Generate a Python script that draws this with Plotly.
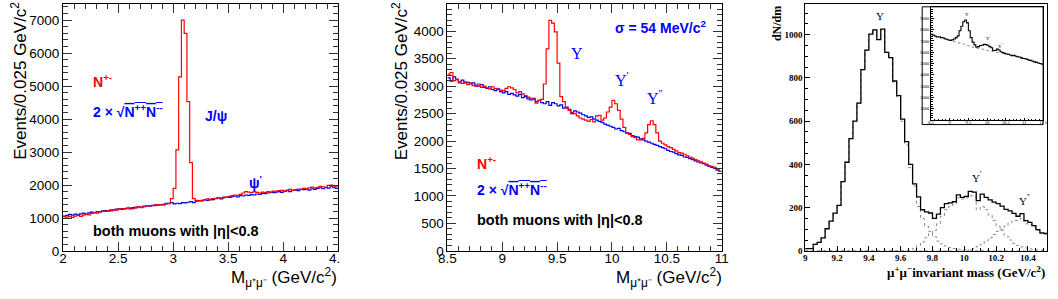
import numpy as np
import plotly.graph_objects as go

W, H = 1058, 299

# ---------------- data ----------------
# Panel 1: J/psi region, bins of 0.025 GeV starting at 2.0
p1_bin_start = 2.0
p1_bin_width = 0.025
p1_red = [1040, 1030, 1050, 1020, 1060, 1080, 1050, 1090, 1110, 1100,
          1140, 1170, 1150, 1190, 1210, 1200, 1230, 1220, 1250, 1240,
          1270, 1290, 1280, 1300, 1310, 1290, 1330, 1340, 1320, 1360,
          1380, 1370, 1390, 1380, 1410, 1400, 1420, 1450, 1440, 1590,
          1900, 3070, 5280, 7000, 6600, 4530, 2680, 1590, 1540, 1520,
          1540, 1560, 1580, 1550, 1590, 1600, 1620, 1610, 1640, 1630,
          1660, 1680, 1700, 1690, 1720, 1760, 1800, 1790, 1770, 1800,
          1780, 1760, 1790, 1770, 1800, 1790, 1820, 1810, 1830, 1840,
          1820, 1850, 1870, 1840, 1860, 1880, 1870, 1900, 1890, 1920,
          1940, 1910, 1930, 1960, 1950, 1920, 1990, 2000, 1970, 1950]
p1_blue = [1060, 1080, 1110, 1090, 1120, 1100, 1130, 1150, 1120, 1160,
           1180, 1160, 1200, 1190, 1220, 1230, 1210, 1250, 1240, 1270,
           1280, 1260, 1290, 1300, 1280, 1320, 1310, 1340, 1330, 1350,
           1370, 1360, 1380, 1400, 1390, 1410, 1400, 1430, 1450, 1470,
           1430, 1450, 1440, 1470, 1460, 1480, 1500, 1470, 1510, 1530,
           1520, 1550, 1540, 1570, 1560, 1590, 1610, 1580, 1620, 1640,
           1630, 1650, 1670, 1640, 1680, 1670, 1700, 1690, 1710, 1700,
           1730, 1720, 1750, 1740, 1760, 1780, 1770, 1790, 1800, 1780,
           1810, 1830, 1800, 1840, 1850, 1830, 1870, 1860, 1880, 1850,
           1890, 1870, 1900, 1920, 1890, 1930, 1910, 1950, 1920, 1900]
p1_xticks = [2, 2.5, 3, 3.5, 4, 4.5]
p1_xticklabels = ["2", "2.5", "3", "3.5", "4", "4.<span style='color:white'>5</span>"]
p1_yticks = [0, 1000, 2000, 3000, 4000, 5000, 6000, 7000]

# Panel 2: Upsilon region, bins of 0.025 GeV starting at 8.5
p2_bin_start = 8.5
p2_bin_width = 0.025
p2_red = [3220, 3250, 3100, 3130, 3060, 3050, 3080, 3030, 3060, 3010,
          3000, 3040, 2980, 3000, 2970, 2950, 2990, 2960, 2940, 2930,
          2920, 2960, 2990, 2970, 2940, 2880, 2900, 2860, 2830, 2800,
          2780, 2760, 2690, 2740, 2760, 3040, 3680, 4200, 4150, 3990,
          3420, 2810, 2720, 2600, 2560, 2520, 2500, 2460, 2420, 2400,
          2380, 2360, 2390, 2350, 2460, 2470, 2380, 2420, 2530, 2620,
          2740, 2680, 2560, 2400, 2250, 2140, 2120, 2080, 2060, 2020,
          2020, 2050, 2150, 2300, 2370, 2300, 2150, 2000, 1960, 1930,
          1900, 1880, 1850, 1820, 1790, 1780, 1760, 1730, 1710, 1690,
          1660, 1640, 1620, 1600, 1580, 1550, 1540, 1520, 1480, 1450]
p2_blue = [3150, 3090, 3170, 3120, 3080, 3110, 3060, 3070, 3040, 3060,
           3020, 3000, 3030, 2980, 2960, 2990, 2940, 2920, 2950, 2900,
           2880, 2900, 2850, 2870, 2840, 2820, 2850, 2790, 2810, 2770,
           2750, 2780, 2720, 2740, 2700, 2680, 2720, 2650, 2700, 2680,
           2640, 2660, 2600, 2620, 2580, 2500, 2550, 2530, 2510, 2480,
           2460, 2430, 2440, 2400, 2380, 2360, 2340, 2310, 2290, 2270,
           2250, 2220, 2230, 2190, 2170, 2150, 2140, 2100, 2080, 2070,
           2040, 2020, 2000, 1980, 1960, 1940, 1920, 1900, 1880, 1860,
           1830, 1810, 1800, 1770, 1750, 1740, 1710, 1700, 1680, 1660,
           1640, 1620, 1600, 1590, 1560, 1540, 1520, 1500, 1470, 1450]
p2_xticks = [8.5, 9, 9.5, 10, 10.5, 11]
p2_yticks = [0, 500, 1000, 1500, 2000, 2500, 3000, 3500, 4000, 4500]

# Panel 3: fitted Upsilon states, bins of 0.025 GeV starting at 9.0
p3_bin_start = 9.0
p3_bin_width = 0.025
p3_total = [10, 10, 30, 39, 60, 102, 137, 174, 210, 320,
            410, 519, 600, 684, 839, 929, 1003, 1023, 978, 1026,
            919, 894, 786, 718, 610, 505, 400, 310, 250, 190,
            180, 175, 150, 170, 200, 218, 222, 227, 259, 247,
            252, 275, 272, 232, 262, 247, 236, 225, 218, 207,
            192, 185, 173, 160, 172, 140, 132, 117, 98, 83, 80]
p3_ups1s = [10, 10, 30, 39, 60, 102, 137, 174, 210, 320,
            410, 519, 600, 684, 839, 929, 1003, 1023, 978, 1026,
            919, 894, 780, 712, 600, 490, 385, 300, 205, 150,
            115, 90, 65, 45, 32, 22, 15, 10, 7, 5,
            4, 3, 2, 2, 1, 1, 1, 0, 0, 0,
            0, 0, 0, 0, 0, 0, 0, 0, 0, 0, 0]
p3_ups2s = [0, 0, 0, 0, 0, 0, 0, 0, 0, 0,
            0, 0, 0, 0, 0, 0, 0, 0, 0, 0,
            0, 0, 0, 0, 0, 2, 5, 10, 25, 40,
            60, 80, 95, 125, 160, 190, 205, 215, 245, 240,
            245, 255, 250, 190, 205, 190, 165, 140, 115, 95,
            70, 50, 35, 25, 18, 13, 9, 6, 4, 3, 2]
p3_ups3s = [0, 0, 0, 0, 0, 0, 0, 0, 0, 0,
            0, 0, 0, 0, 0, 0, 0, 0, 0, 0,
            0, 0, 0, 0, 0, 0, 0, 0, 0, 0,
            0, 0, 0, 0, 0, 0, 0, 0, 0, 0,
            2, 5, 10, 20, 30, 45, 60, 75, 90, 100,
            115, 130, 140, 140, 150, 125, 122, 110, 95, 80, 78]
p3_xticks = [9, 9.2, 9.4, 9.6, 9.8, 10, 10.2, 10.4]
p3_yticks = [0, 200, 400, 600, 800, 1000]

# Inset: bins of 0.05 GeV starting at 8.5
inset_bin_start = 8.5
inset_bin_width = 0.05
inset_total = [7600, 7500, 7420, 7350, 7380, 7300, 7280, 7200, 7150, 7080,
               7050, 7100, 7180, 7300, 7450, 7900, 8300, 8700, 8860, 8600,
               7900, 7300, 6900, 6650, 6450, 6500, 6600, 6620, 6700, 6680,
               6620, 6500, 6400, 6150, 6150, 6280, 6200, 6050, 5980, 5900,
               5850, 5820, 5760, 5700, 5720, 5650, 5600, 5580, 5500, 5450,
               5420, 5380, 5300, 5280, 5200, 5150, 5100, 5050, 5000, 4950]
inset_background = [7600, 7500, 7420, 7350, 7380, 7300, 7280, 7200, 7150, 7080,
                    7050, 7000, 6950, 6900, 6850, 6800, 6750, 6720, 6650, 6600,
                    6550, 6500, 6450, 6420, 6380, 6350, 6300, 6280, 6250, 6200,
                    6150, 6120, 6080, 6050, 6000, 5980, 5950, 5920, 5900, 5900,
                    5850, 5820, 5760, 5700, 5720, 5650, 5600, 5580, 5500, 5450,
                    5420, 5380, 5300, 5280, 5200, 5150, 5100, 5050, 5000, 4950]
inset_xticks = [8.5, 9, 9.5, 10, 10.5, 11, 11.5]
inset_yticks = [1000, 2000, 3000, 4000, 5000, 6000, 7000, 8000, 9000]

# ---------------- helpers ----------------
SANS = "Liberation Sans, Arial, sans-serif"
SERIF = "Liberation Serif, Times New Roman, serif"


def hx(p):
    return p / W


def hy(p):
    return 1 - p / H


def step(start, width, vals):
    edges = start + width * np.arange(len(vals) + 1)
    return edges, list(vals) + [vals[-1]]


fig = go.Figure()


def add_hist(start, width, vals, color, lw, xa, ya, dash="solid"):
    xs, ys = step(start, width, vals)
    fig.add_trace(go.Scatter(x=xs, y=ys, mode="lines", line_shape="hv",
                             line=dict(color=color, width=lw, dash=dash),
                             xaxis=xa, yaxis=ya, hoverinfo="skip", showlegend=False))


RED = "#ff0000"
BLUE = "#0000ff"

add_hist(p1_bin_start, p1_bin_width, p1_blue, BLUE, 1.2, "x", "y")
add_hist(p1_bin_start, p1_bin_width, p1_red, RED, 1.2, "x", "y")
add_hist(p2_bin_start, p2_bin_width, p2_blue, BLUE, 1.2, "x2", "y2")
add_hist(p2_bin_start, p2_bin_width, p2_red, RED, 1.2, "x2", "y2")
GRAY = "#8a8a8a"
add_hist(p3_bin_start, p3_bin_width, p3_ups1s, GRAY, 1, "x3", "y3", "dot")
add_hist(p3_bin_start, p3_bin_width, p3_ups2s, GRAY, 1, "x3", "y3", "dot")
add_hist(p3_bin_start, p3_bin_width, p3_ups3s, GRAY, 1, "x3", "y3", "dot")
add_hist(p3_bin_start, p3_bin_width, p3_total, "black", 1.3, "x3", "y3")
add_hist(inset_bin_start, inset_bin_width, inset_background, GRAY, 1, "x4", "y4", "dot")
add_hist(inset_bin_start, inset_bin_width, inset_total, "black", 1.1, "x4", "y4")

tick_font_sans = dict(family=SANS, size=13.5, color="black")
frame = dict(showline=True, linecolor="black", linewidth=1, mirror="allticks",
             showgrid=False, zeroline=False, ticks="inside", tickcolor="#333",
             tickwidth=1)

layout = dict(
    width=W, height=H, margin=dict(l=0, r=0, t=0, b=0),
    paper_bgcolor="white", plot_bgcolor="white", showlegend=False,
    xaxis=dict(frame, domain=[hx(55), hx(335)], range=[2, 4.5], anchor="y",
               tickvals=p1_xticks, ticktext=p1_xticklabels, ticklen=9,
               minor=dict(ticks="inside", dtick=0.1, ticklen=5, tickcolor="#333"),
               tickfont=tick_font_sans, ticklabelstandoff=-5),
    yaxis=dict(frame, domain=[hy(258), hy(3.7)], range=[0, 7500], anchor="x",
               tickvals=p1_yticks, ticklen=9,
               minor=dict(ticks="inside", dtick=200, ticklen=5, tickcolor="#333"),
               tickfont=tick_font_sans),
    xaxis2=dict(frame, domain=[hx(446), hx(725)], range=[8.5, 11], anchor="y2",
                tickvals=p2_xticks, ticklen=9,
                minor=dict(ticks="inside", dtick=0.1, ticklen=5, tickcolor="#333"),
                tickfont=tick_font_sans, ticklabelstandoff=-5),
    yaxis2=dict(frame, domain=[hy(257.7), hy(4)], range=[0, 4500], anchor="x2",
                tickvals=p2_yticks, ticklen=9,
                minor=dict(ticks="inside", dtick=100, ticklen=5, tickcolor="#333"),
                tickfont=tick_font_sans),
    xaxis3=dict(showline=True, linecolor="black", linewidth=1, mirror=True,
                showgrid=False, zeroline=False, ticks="inside", tickcolor="black",
                domain=[hx(810), hx(1056)], range=[9, 10.52], anchor="y3",
                tickvals=p3_xticks, ticklen=5,
                minor=dict(ticks="inside", dtick=0.05, ticklen=3, tickcolor="black"),
                tickfont=dict(family=SERIF, size=9, color="black", weight="bold"),
                ticklabelstandoff=-2),
    yaxis3=dict(showline=True, linecolor="black", linewidth=1, mirror=True,
                showgrid=False, zeroline=False, ticks="inside", tickcolor="black",
                domain=[hy(257.7), hy(4)], range=[0, 1143], anchor="x3",
                tickvals=p3_yticks, ticklen=5,
                minor=dict(ticks="inside", dtick=50, ticklen=3, tickcolor="black"),
                tickfont=dict(family=SERIF, size=9, color="black", weight="bold")),
    xaxis4=dict(showline=True, linecolor="black", linewidth=1, mirror=True,
                showgrid=False, zeroline=False, ticks="inside", tickcolor="black",
                domain=[hx(938), hx(1052)], range=[8.5, 11.5], anchor="y4",
                tickvals=inset_xticks, ticklen=2.5,
                minor=dict(ticks="inside", dtick=0.1, ticklen=1.5, tickcolor="black"),
                tickfont=dict(family=SERIF, size=4.5, color="black"),
                ticklabelstandoff=-2),
    yaxis4=dict(showline=True, linecolor="black", linewidth=1, mirror=True,
                showgrid=False, zeroline=False, ticks="inside", tickcolor="black",
                domain=[hy(123.3), hy(7.3)], range=[0, 10000], anchor="x4",
                tickvals=inset_yticks, ticklen=2.5,
                minor=dict(ticks="inside", dtick=200, ticklen=1.5, tickcolor="black"),
                tickfont=dict(family=SERIF, size=4.5, color="black")),
)
fig.update_layout(**layout)

# inset outer box
fig.add_shape(type="rect", xref="paper", yref="paper",
              x0=hx(929), x1=hx(1052), y0=hy(128), y1=hy(7),
              line=dict(color="black", width=1), fillcolor="rgba(0,0,0,0)")

ann = []


def A(text, x, y, xref, yref, size, color="black", family=SANS, xanchor="left",
      yanchor="middle", angle=0):
    ann.append(dict(text=text, x=x, y=y, xref=xref, yref=yref, showarrow=False,
                    font=dict(size=size, color=color, family=family),
                    xanchor=xanchor, yanchor=yanchor, textangle=angle))


SQRT = "2 × √<span style='text-decoration:overline'>N<sup>++</sup>N<sup>--</sup></span>"

# axis titles
A("Events/0.025 GeV/c<sup>2</sup>", hx(10), hy(0), "paper", "paper", 17,
  xanchor="center", yanchor="top", angle=-90)
A("M<sub>μ⁺μ⁻</sub> (GeV/c<sup>2</sup>)", hx(336), hy(285), "paper", "paper", 17,
  xanchor="right")
A("Events/0.025 GeV/c<sup>2</sup>", hx(398), hy(0), "paper", "paper", 17,
  xanchor="center", yanchor="top", angle=-90)
A("M<sub>μ⁺μ⁻</sub> (GeV/c<sup>2</sup>)", hx(727), hy(285), "paper", "paper", 17,
  xanchor="right")
A("<b>dN/dm</b>", hx(782), hy(4), "paper", "paper", 12, family=SERIF,
  xanchor="center", yanchor="top", angle=-90)
A("<b>μ<sup>+</sup>μ<sup>−</sup>invariant mass (GeV/c<sup>2</sup>)</b>", hx(1056), hy(279),
  "paper", "paper", 13, family=SERIF, xanchor="right")

# panel 1 labels
A("<b>N<sup>+-</sup></b>", 2.25, 5150, "x", "y", 14, RED)
A("<b>" + SQRT + "</b>", 2.25, 4250, "x", "y", 14, BLUE)
A("<b>J/ψ</b>", 3.27, 4100, "x", "y", 14, BLUE)
A("<b>ψ<sup>'</sup></b>", 3.67, 2100, "x", "y", 14, BLUE)
A("<b>both muons with |η|&lt;0.8</b>", 2.25, 600, "x", "y", 14.5)

# panel 2 labels
A("<b>σ = 54 MeV/c<sup>2</sup></b>", 10.01, 4075, "x2", "y2", 14, BLUE)
A("Υ", 9.61, 3600, "x2", "y2", 16, BLUE, SERIF)
A("Υ<sup>'</sup>", 10.01, 3130, "x2", "y2", 16, BLUE, SERIF)
A("Υ<sup>''</sup>", 10.3, 2810, "x2", "y2", 16, BLUE, SERIF)
A("<b>N<sup>+-</sup></b>", 8.75, 1600, "x2", "y2", 14, RED)
A("<b>" + SQRT + "</b>", 8.75, 1130, "x2", "y2", 14, BLUE)
A("<b>both muons with |η|&lt;0.8</b>", 8.75, 560, "x2", "y2", 14.5)

# panel 3 labels
A("Υ", 9.47, 1085, "x3", "y3", 11, family=SERIF, xanchor="center")
A("Υ<sup>'</sup>", 10.08, 342, "x3", "y3", 11, family=SERIF, xanchor="center")
A("Υ<sup>''</sup>", 10.38, 233, "x3", "y3", 11, family=SERIF, xanchor="center")

# inset labels
A("Υ", 9.47, 9370, "x4", "y4", 5, family=SERIF, xanchor="center")
A("Υ<sup>'</sup>", 10.03, 7290, "x4", "y4", 5, family=SERIF, xanchor="center")
A("Υ<sup>''</sup>", 10.35, 6570, "x4", "y4", 5, family=SERIF, xanchor="center")

fig.update_layout(annotations=ann)
fig.write_html("out.html", config={"displayModeBar": False},
               post_script="document.body.style.margin='0px';"
                           "document.body.style.overflow='hidden';")
